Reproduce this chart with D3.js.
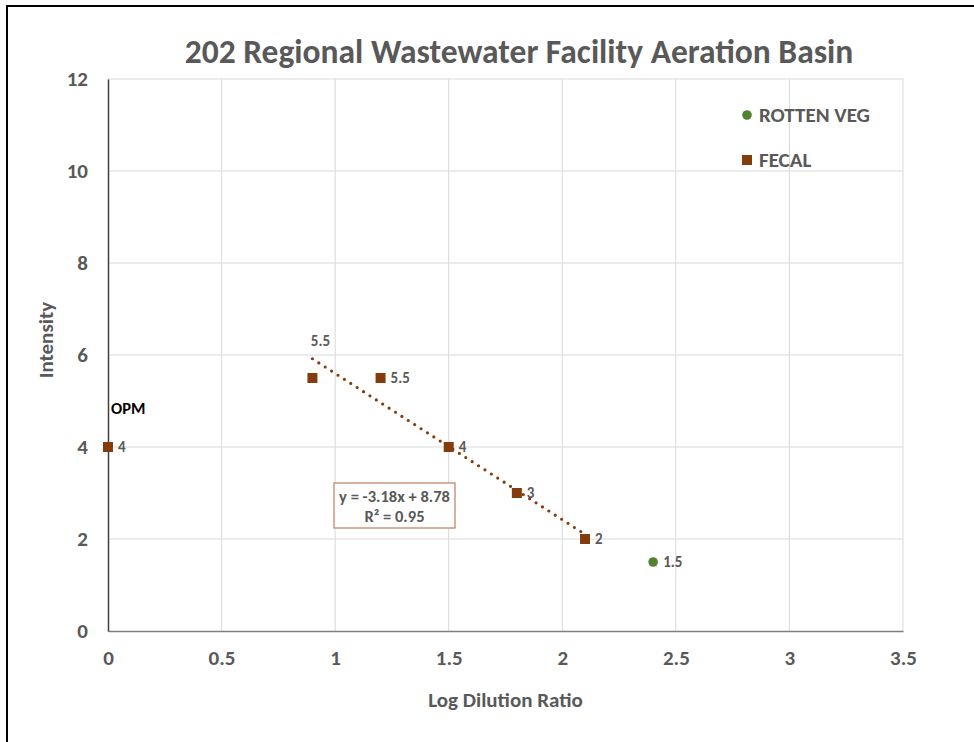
<!DOCTYPE html>
<html><head><meta charset="utf-8">
<script src="https://cdn.jsdelivr.net/npm/d3@7"></script>
<style>body{margin:0;background:#fff}svg{display:block}</style>
</head><body><svg id="c" width="974" height="742"></svg>
<script>
const title = "202 Regional Wastewater Facility Aeration Basin";
const xTicks = [0, 0.5, 1, 1.5, 2, 2.5, 3, 3.5];
const yTicks = [0, 2, 4, 6, 8, 10, 12];
const fecalX = [0, 0.9, 1.2, 1.5, 1.8, 2.1];
const fecalY = [4, 5.5, 5.5, 4, 3, 2];
const fecalLabels = ["4", "5.5", "5.5", "4", "3", "2"];
const vegX = [2.4];
const vegY = [1.5];
const vegLabels = ["1.5"];
const trendSlope = -3.18, trendIntercept = 8.78, trendR2 = 0.95;
const trendRange = [0.9, 2.1];
const seriesNames = ["ROTTEN VEG", "FECAL"];

const FONT = "Carlito, 'Liberation Sans Narrow', 'Open Sans', sans-serif";
const GRAY = "#595959", BROWN = "#843C0C", GREEN = "#548235";
const svg = d3.select("#c");
svg.append("rect").attr("x",7).attr("y",6).attr("width",1000).attr("height",800)
  .attr("fill","#fff").attr("stroke","#000").attr("stroke-width",2);

const L=108,R=903,T=79,B=631;
const x = d3.scaleLinear().domain([0,3.5]).range([L,R]);
const y = d3.scaleLinear().domain([0,12]).range([B,T]);

// grid
svg.append("g").selectAll("line").data(xTicks.slice(1)).join("line")
  .attr("x1",d=>x(d)).attr("x2",d=>x(d)).attr("y1",T).attr("y2",B)
  .attr("stroke","#d9d9d9").attr("stroke-width",1);
svg.append("g").selectAll("line").data(yTicks.slice(1)).join("line")
  .attr("x1",L).attr("x2",R).attr("y1",d=>y(d)).attr("y2",d=>y(d))
  .attr("stroke","#d9d9d9").attr("stroke-width",1);

// axes
const xa = svg.append("g").attr("transform",`translate(0,${B})`)
  .call(d3.axisBottom(x).tickValues(xTicks).tickSize(0).tickPadding(19).tickFormat(d=>String(d)));
xa.select(".domain").attr("stroke","#7f7f7f").attr("stroke-width",1.5);
const ya = svg.append("g").attr("transform",`translate(${L},0)`)
  .call(d3.axisLeft(y).tickValues(yTicks).tickSize(0).tickPadding(20).tickFormat(d=>String(d)));
ya.select(".domain").attr("stroke","#404040").attr("stroke-width",1.5);
svg.selectAll(".tick text").attr("font-family",FONT).attr("font-size",21)
  .attr("font-weight","bold").attr("fill",GRAY);

// titles
svg.append("text").attr("x",519).attr("y",63).attr("text-anchor","middle")
  .attr("font-family",FONT).attr("font-size",33.5).attr("font-weight","bold").attr("fill",GRAY).text(title);
svg.append("text").attr("x",x(1.75)).attr("y",707).attr("text-anchor","middle")
  .attr("font-family",FONT).attr("font-size",21).attr("font-weight","bold").attr("fill",GRAY).text("Log Dilution Ratio");
svg.append("text").attr("transform","translate(53,340) rotate(-90)").attr("text-anchor","middle")
  .attr("font-family",FONT).attr("font-size",21).attr("font-weight","bold").attr("fill",GRAY).text("Intensity");

// trendline
svg.append("line").attr("x1",x(trendRange[0])).attr("y1",y(trendSlope*trendRange[0]+trendIntercept))
  .attr("x2",x(trendRange[1])).attr("y2",y(trendSlope*trendRange[1]+trendIntercept))
  .attr("stroke",BROWN).attr("stroke-width",3.2).attr("stroke-linecap","round").attr("stroke-dasharray","0 7.6");

// points
const fecal = fecalX.map((v,i)=>({x:v,y:fecalY[i],l:fecalLabels[i]}));
svg.append("g").selectAll("rect").data(fecal).join("rect")
  .attr("x",d=>x(d.x)-5).attr("y",d=>y(d.y)-5).attr("width",10).attr("height",10).attr("fill",BROWN);
const veg = vegX.map((v,i)=>({x:v,y:vegY[i],l:vegLabels[i]}));
svg.append("g").selectAll("circle").data(veg).join("circle")
  .attr("cx",d=>x(d.x)).attr("cy",d=>y(d.y)).attr("r",4.8).attr("fill",GREEN);

// data labels
const lab = (px,py,t,anchor)=>svg.append("text").attr("x",px).attr("y",py).attr("text-anchor",anchor||"start")
  .attr("font-family",FONT).attr("font-size",15).attr("font-weight","bold").attr("fill",GRAY).text(t);
fecal.forEach((d,i)=>{
  if(i===1) lab(x(d.x)+8, y(6.3)+5, d.l, "middle");
  else lab(x(d.x)+10, y(d.y)+5, d.l);
});
veg.forEach(d=>lab(x(d.x)+10, y(d.y)+5, d.l));
svg.append("text").attr("x",x(0)+3).attr("y",y(4.85)+6).attr("font-family",FONT).attr("font-size",16.5)
  .attr("font-weight","bold").attr("fill","#000").text("OPM");

// equation box
svg.append("rect").attr("x",334).attr("y",483).attr("width",121).attr("height",45)
  .attr("fill","#fff").attr("stroke","#c0896a").attr("stroke-width",1.3);
const eq = `y = ${trendSlope}x + ${trendIntercept}`;
svg.append("text").attr("x",394.5).attr("y",502).attr("text-anchor","middle").attr("font-family",FONT)
  .attr("font-size",16.5).attr("font-weight","bold").attr("fill",GRAY).text(eq);
svg.append("text").attr("x",394.5).attr("y",522).attr("text-anchor","middle").attr("font-family",FONT)
  .attr("font-size",16.5).attr("font-weight","bold").attr("fill",GRAY).text(`R² = ${trendR2}`);

// legend
const lg = svg.append("g");
lg.append("circle").attr("cx",747).attr("cy",115).attr("r",4.8).attr("fill",GREEN);
lg.append("rect").attr("x",742).attr("y",155).attr("width",10).attr("height",10).attr("fill",BROWN);
seriesNames.forEach((n,i)=>lg.append("text").attr("x",759).attr("y",122+i*45).attr("font-family",FONT)
  .attr("font-size",21).attr("font-weight","bold").attr("fill",GRAY).text(n));
</script></body></html>
